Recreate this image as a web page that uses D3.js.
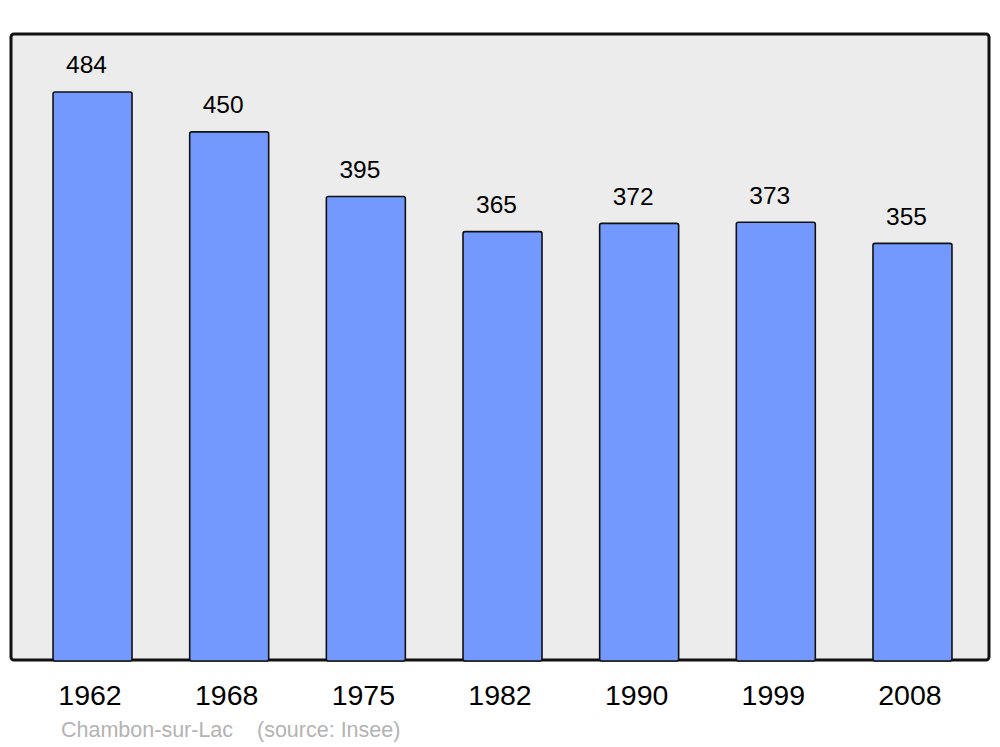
<!DOCTYPE html>
<html><head><meta charset="utf-8">
<script src="https://cdn.jsdelivr.net/npm/d3@7"></script>
<style>body{margin:0;background:#fff}svg{display:block}text{font-family:"Liberation Sans",Arial,sans-serif}</style>
</head><body><svg id="c" width="1000" height="747"></svg>
<script>
const years = ["1962","1968","1975","1982","1990","1999","2008"];
const population = [484,450,395,365,372,373,355];
const footerParts = ["Chambon-sur-Lac", "(source: Insee)"];

const svg = d3.select("#c");
const panel = {x:11, y:34, w:978, h:626};
const x = d3.scaleBand().domain(years).range([24.2, 980.8]).paddingInner(0.422).paddingOuter(0.211);
const y = d3.scaleLinear().domain([0, 533.4]).range([panel.y+panel.h, panel.y]);

svg.append("rect").attr("x",panel.x).attr("y",panel.y).attr("width",panel.w).attr("height",panel.h)
  .attr("rx",3).attr("fill","#ececec").attr("stroke","#111").attr("stroke-width",3);

const data = years.map((yr,i)=>({yr, v:population[i]}));
svg.selectAll("rect.bar").data(data).join("rect").attr("class","bar")
  .attr("x",d=>x(d.yr)).attr("width",x.bandwidth())
  .attr("y",d=>y(d.v)).attr("height",d=>y(0)-y(d.v)+1)
  .attr("rx",2).attr("fill","#7399ff").attr("stroke","#111").attr("stroke-width",1.6);

svg.selectAll("text.val").data(data).join("text").attr("class","val")
  .attr("x",d=>x(d.yr)+x.bandwidth()/2-6).attr("y",d=>y(d.v)-18.5)
  .attr("text-anchor","middle").attr("font-size",24.5).attr("fill","#000").text(d=>d.v);

svg.selectAll("text.yr").data(data).join("text").attr("class","yr")
  .attr("x",d=>x(d.yr)+x.bandwidth()/2-2.5).attr("y",705)
  .attr("text-anchor","middle").attr("font-size",28.5).attr("fill","#000").text(d=>d.yr);

svg.selectAll("text.foot").data(footerParts).join("text").attr("class","foot")
  .attr("x",(d,i)=>i===0?61:257).attr("y",737).attr("font-size",21.5).attr("fill","#b3b3b3").text(d=>d);
</script></body></html>
